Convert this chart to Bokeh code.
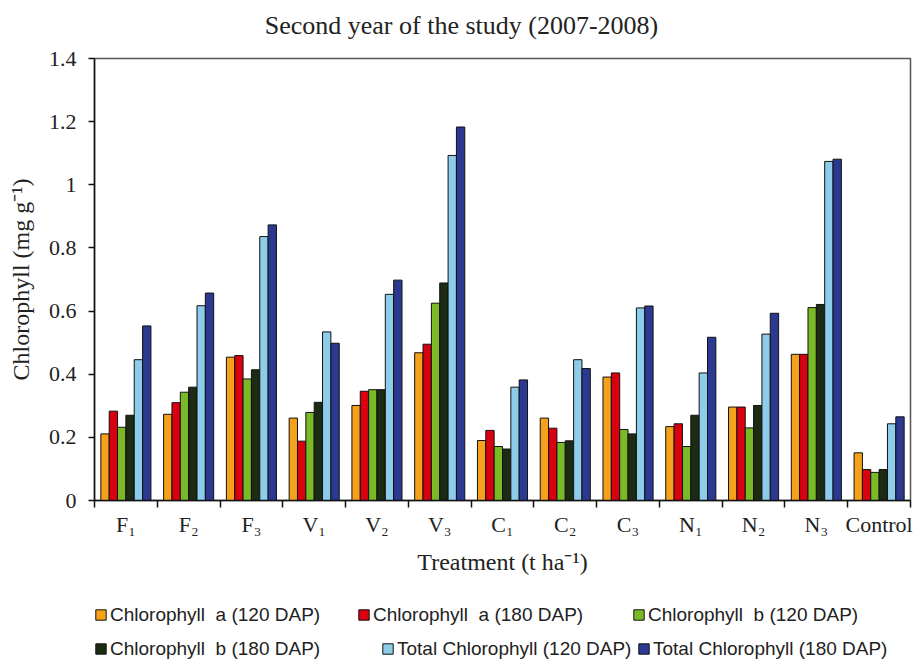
from bokeh.plotting import figure
from bokeh.layouts import column
from bokeh.models import (ColumnDataSource, FixedTicker, CustomJSTickFormatter,
                          Legend, LegendItem, Range1d, Label)
from bokeh.transform import dodge
from bokeh.embed import file_html
from bokeh.resources import INLINE

treatments = ["F\u2081", "F\u2082", "F\u2083", "V\u2081", "V\u2082", "V\u2083",
              "C\u2081", "C\u2082", "C\u2083", "N\u2081", "N\u2082", "N\u2083", "Control"]
chl_a_120 = [0.211, 0.273, 0.454, 0.261, 0.301, 0.468, 0.190, 0.261, 0.391, 0.234, 0.296, 0.463, 0.151]
chl_a_180 = [0.283, 0.310, 0.459, 0.188, 0.346, 0.495, 0.222, 0.229, 0.404, 0.243, 0.296, 0.463, 0.098]
chl_b_120 = [0.232, 0.343, 0.385, 0.279, 0.351, 0.625, 0.171, 0.184, 0.225, 0.171, 0.230, 0.611, 0.089]
chl_b_180 = [0.270, 0.359, 0.414, 0.311, 0.351, 0.689, 0.163, 0.189, 0.211, 0.270, 0.301, 0.621, 0.098]
total_120 = [0.446, 0.617, 0.836, 0.534, 0.653, 1.093, 0.359, 0.446, 0.610, 0.404, 0.527, 1.074, 0.243]
total_180 = [0.553, 0.657, 0.873, 0.498, 0.698, 1.183, 0.382, 0.418, 0.616, 0.517, 0.593, 1.081, 0.265]

series_keys = ["chl_a_120", "chl_a_180", "chl_b_120", "chl_b_180", "total_120", "total_180"]
series_labels = ["Chlorophyll  a (120 DAP)", "Chlorophyll  a (180 DAP)", "Chlorophyll  b (120 DAP)",
                 "Chlorophyll  b (180 DAP)", "Total Chlorophyll (120 DAP)", "Total Chlorophyll (180 DAP)"]
colors = ["#F5A11C", "#D9000F", "#7BBA27", "#1C2B14", "#8DCDEA", "#2C3990"]
y_ticks = [0, 0.2, 0.4, 0.6, 0.8, 1.0, 1.2, 1.4]

title_text = "Second year of the study (2007-2008)"
x_label = "Treatment (t ha\u207b\u00b9)"
y_label = "Chlorophyll (mg g\u207b\u00b9)"

SERIF = "Liberation Serif"
SANS = "Liberation Sans"
TXT = "#222222"

n = len(treatments)
centers = [i + 0.5 for i in range(n)]
bounds = [i for i in range(n + 1)]

source = ColumnDataSource(dict(
    x=centers,
    chl_a_120=chl_a_120, chl_a_180=chl_a_180,
    chl_b_120=chl_b_120, chl_b_180=chl_b_180,
    total_120=total_120, total_180=total_180,
))

# ---------------- title strip ----------------
head = figure(width=918, height=44, output_backend="svg", toolbar_location=None,
              x_range=Range1d(0, 1), y_range=Range1d(0, 1),
              x_axis_type=None, y_axis_type=None,
              min_border_left=0, min_border_right=0, min_border_top=0, min_border_bottom=0)
head.xgrid.visible = False
head.ygrid.visible = False
head.outline_line_color = None
head.add_layout(Label(x=367, y=19, x_units="screen", y_units="screen", text=title_text,
                      text_align="center", text_baseline="middle",
                      text_font=SERIF, text_font_size="26px", text_color=TXT))

# ---------------- main chart ----------------
p = figure(width=918, height=546, output_backend="svg", toolbar_location=None,
           x_range=Range1d(0, n), y_range=Range1d(0, 1.4),
           min_border_left=94, min_border_right=8, min_border_top=14, min_border_bottom=90)

bw = 0.133
for k, (key, col) in enumerate(zip(series_keys, colors)):
    off = (k - 2.5) * bw
    p.vbar(x=dodge("x", off), top=key, width=bw, bottom=0, source=source,
           fill_color=col, line_color="#111111", line_width=1)

p.xgrid.visible = False
p.ygrid.visible = False
p.outline_line_color = "#555555"
p.outline_line_width = 1.5

xa = p.xaxis[0]
xa.ticker = FixedTicker(ticks=centers, minor_ticks=bounds)
xa.formatter = CustomJSTickFormatter(args=dict(labels=treatments),
                                     code="return labels[Math.floor(tick)];")
xa.major_tick_line_color = None
xa.major_tick_out = 0
xa.major_tick_in = 0
xa.minor_tick_out = 7
xa.minor_tick_in = 0
xa.minor_tick_line_color = "#111111"
xa.minor_tick_line_width = 1.5
xa.axis_line_color = "#111111"
xa.axis_line_width = 1.5
xa.major_label_text_font = SERIF
xa.major_label_text_font_size = "22px"
xa.major_label_text_color = TXT
xa.major_label_standoff = 4
xa.axis_label = x_label
xa.axis_label_text_font = SERIF
xa.axis_label_text_font_size = "24px"
xa.axis_label_text_font_style = "normal"
xa.axis_label_text_color = TXT
xa.axis_label_standoff = 9

ya = p.yaxis[0]
ya.ticker = FixedTicker(ticks=y_ticks, minor_ticks=[])
ya.formatter = CustomJSTickFormatter(code="return String(Math.round(tick * 10) / 10);")
ya.major_tick_out = 6
ya.major_tick_in = 0
ya.major_tick_line_color = "#111111"
ya.major_tick_line_width = 1.5
ya.axis_line_color = "#111111"
ya.axis_line_width = 1.5
ya.major_label_text_font = SERIF
ya.major_label_text_font_size = "22px"
ya.major_label_text_color = TXT
ya.major_label_standoff = 12
ya.axis_label = y_label
ya.axis_label_text_font = SERIF
ya.axis_label_text_font_size = "24px"
ya.axis_label_text_font_style = "normal"
ya.axis_label_text_color = TXT
ya.axis_label_standoff = 12

# ---------------- legend strip ----------------
leg = figure(width=918, height=73, output_backend="svg", toolbar_location=None,
             x_range=Range1d(0, n), y_range=Range1d(10, 11),
             x_axis_type=None, y_axis_type=None,
             min_border_left=0, min_border_right=0, min_border_top=0, min_border_bottom=0)
leg.xgrid.visible = False
leg.ygrid.visible = False
leg.outline_line_color = None

legend_pos = [(0, 37), (263, 37), (538, 37), (0, 3), (287, 3), (543, 3)]
for key, col, lab, loc in zip(series_keys, colors, series_labels, legend_pos):
    r = leg.vbar(x="x", top=key, width=bw, bottom=0, source=source,
                 fill_color=col, line_color="#111111", line_width=1)
    lg = Legend(items=[LegendItem(label=lab, renderers=[r])], location=loc,
                orientation="horizontal",
                label_text_font=SANS, label_text_font_size="19px", label_text_color=TXT,
                glyph_width=13, glyph_height=13, label_standoff=3,
                label_height=23, padding=0, margin=0,
                border_line_color=None, background_fill_alpha=0)
    leg.add_layout(lg, "center")

layout = column(head, p, leg, spacing=0)
open("out.html", "w").write(file_html(layout, INLINE))
